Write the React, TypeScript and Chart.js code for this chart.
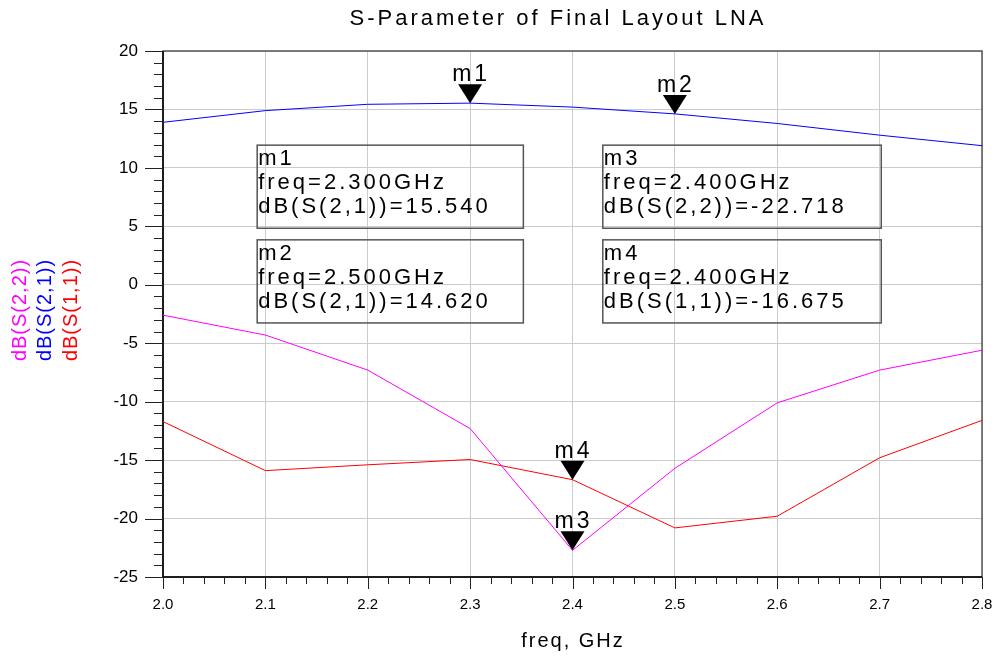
import React, { useEffect, useRef } from 'react';
import { Chart, registerables } from 'chart.js';
Chart.register(...registerables);

const freqs = [2.0, 2.1, 2.2, 2.3, 2.4, 2.5, 2.6, 2.7, 2.8];
const s21 = [13.9, 14.9, 15.44, 15.54, 15.2, 14.62, 13.8, 12.8, 11.9];
const s22 = [-2.6, -4.3, -7.3, -12.3, -22.718, -15.7, -10.1, -7.3, -5.6];
const s11 = [-11.7, -15.9, -15.4, -14.95, -16.675, -20.8, -19.8, -14.8, -11.6];

const traceNames = ['dB(S(2,2))', 'dB(S(2,1))', 'dB(S(1,1))'];
const traceColors = ['#ff00ff', '#0000ff', '#ff0000'];

const markerNames = ['m1', 'm2', 'm3', 'm4'];
const markerFreqs = [2.3, 2.5, 2.4, 2.4];
const markerTraces = ['dB(S(2,1))', 'dB(S(2,1))', 'dB(S(2,2))', 'dB(S(1,1))'];
const markerValues = [15.54, 14.62, -22.718, -16.675];

const FONT = '"Liberation Sans", Arial, sans-serif';

export default function App() {
  const ref = useRef<HTMLCanvasElement>(null);
  useEffect(() => {
    const ctx = ref.current!.getContext('2d')!;

    const overlay = {
      id: 'overlay',
      beforeDatasetsDraw(chart: any) {
        const c = chart.ctx as CanvasRenderingContext2D;
        const { left, right, top, bottom } = chart.chartArea;
        const xs = chart.scales.x;
        const ys = chart.scales.y;
        c.save();
        c.strokeStyle = '#555';
        c.lineWidth = 1.5;
        c.strokeRect(left, top, right - left, bottom - top);
        c.strokeStyle = '#000';
        c.lineWidth = 1.5;
        c.beginPath();
        c.moveTo(left, top);
        c.lineTo(left, bottom);
        c.lineTo(right, bottom);
        c.stroke();
        c.lineWidth = 1;
        c.strokeStyle = '#222';
        for (let v = -25; v <= 20; v++) {
          const y = Math.round(ys.getPixelForValue(v)) + 0.5;
          const len = v % 5 === 0 ? 18 : 9;
          c.beginPath();
          c.moveTo(left - len, y);
          c.lineTo(left, y);
          c.stroke();
        }
        for (let i = 0; i <= 40; i++) {
          const x = Math.round(xs.getPixelForValue(2.0 + i * 0.02)) + 0.5;
          const len = i % 5 === 0 ? 12 : 7;
          c.beginPath();
          c.moveTo(x, bottom);
          c.lineTo(x, bottom + len);
          c.stroke();
        }
        c.restore();
      },
      afterDraw(chart: any) {
        const c = chart.ctx as CanvasRenderingContext2D;
        const { left, right, top, bottom } = chart.chartArea;
        const w = right - left;
        const h = bottom - top;
        const xs = chart.scales.x;
        const ys = chart.scales.y;
        c.save();
        c.fillStyle = '#000';
        c.font = `22px ${FONT}`;
        (c as any).letterSpacing = '3px';
        c.textAlign = 'center';
        c.textBaseline = 'middle';
        c.fillText('S-Parameter of Final Layout LNA', 558, 19);
        (c as any).letterSpacing = '2px';
        c.font = `20px ${FONT}`;
        c.fillText('freq, GHz', 573, 641);
        (c as any).letterSpacing = '1px';
        c.font = `20px ${FONT}`;
        const yx = [20, 45, 71];
        traceNames.forEach((n, i) => {
          c.save();
          c.translate(yx[i], 310);
          c.rotate(-Math.PI / 2);
          c.fillStyle = traceColors[i];
          c.fillText(n, 0, 0);
          c.restore();
        });
        markerNames.forEach((m, i) => {
          const x = xs.getPixelForValue(markerFreqs[i]);
          const y = ys.getPixelForValue(markerValues[i]);
          c.fillStyle = '#000';
          c.beginPath();
          c.moveTo(x, y);
          c.lineTo(x - 12, y - 19);
          c.lineTo(x + 12, y - 19);
          c.closePath();
          c.fill();
          c.font = `23px ${FONT}`;
          (c as any).letterSpacing = '3px';
          c.textAlign = 'center';
          c.textBaseline = 'alphabetic';
          c.fillText(m, x + 1, y - 22);
        });
        const boxes = [
          [0.115, 0.179],
          [0.115, 0.359],
          [0.537, 0.179],
          [0.537, 0.359],
        ];
        const boxW = [0.325, 0.325, 0.34, 0.34];
        boxes.forEach((b, i) => {
          const bx = left + b[0] * w;
          const by = top + b[1] * h;
          const bw = boxW[i] * w;
          const bh = 0.158 * h;
          c.strokeStyle = '#555';
          c.lineWidth = 1.5;
          c.strokeRect(bx, by, bw, bh);
          c.fillStyle = '#000';
          c.font = `22px ${FONT}`;
          (c as any).letterSpacing = '3px';
          c.textAlign = 'left';
          c.textBaseline = 'middle';
          const lines = [
            markerNames[i],
            `freq=${markerFreqs[i].toFixed(3)}GHz`,
            `${markerTraces[i]}=${markerValues[i].toFixed(3)}`,
          ];
          lines.forEach((t, k) => c.fillText(t, bx + 1, by + 14 + k * 24));
        });
        c.restore();
      },
    };

    const mk = (i: number, vals: number[]) => ({
      label: traceNames[i],
      data: freqs.map((f, k) => ({ x: f, y: vals[k] })),
      borderColor: traceColors[i],
      borderWidth: 1,
      pointRadius: 0,
      tension: 0,
      fill: false,
    });

    const chart = new Chart(ctx, {
      type: 'line',
      data: { datasets: [mk(0, s22), mk(1, s21), mk(2, s11)] },
      options: {
        animation: false,
        responsive: false,
        layout: { padding: { top: 51, right: 14, left: 0, bottom: 0 } },
        plugins: { legend: { display: false }, tooltip: { enabled: false }, title: { display: false } },
        scales: {
          x: {
            type: 'linear',
            min: 2.0,
            max: 2.8,
            ticks: {
              stepSize: 0.1,
              callback: (v: any) => Number(v).toFixed(1),
              font: { family: FONT, size: 15 },
              color: '#000',
              padding: 19,
              maxRotation: 0,
            },
            grid: { color: '#cccccc', drawTicks: false, lineWidth: 1 },
            border: { display: false },
            afterFit: (s: any) => { s.height = 81; s.paddingLeft = 0; s.paddingRight = 0; },
          },
          y: {
            min: -25,
            max: 20,
            ticks: {
              stepSize: 5,
              font: { family: FONT, size: 17 },
              color: '#000',
              padding: 25,
            },
            grid: { color: '#cccccc', drawTicks: false, lineWidth: 1 },
            border: { display: false },
            afterFit: (s: any) => { s.width = 163; s.paddingTop = 0; s.paddingBottom = 0; },
          },
        },
      },
      plugins: [overlay],
    });
    return () => chart.destroy();
  }, []);
  return (
    <div style={{ position: 'fixed', left: 0, top: 0, width: 996, height: 658, background: '#fff' }}>
      <canvas ref={ref} width={996} height={658} style={{ display: 'block' }} />
    </div>
  );
}
